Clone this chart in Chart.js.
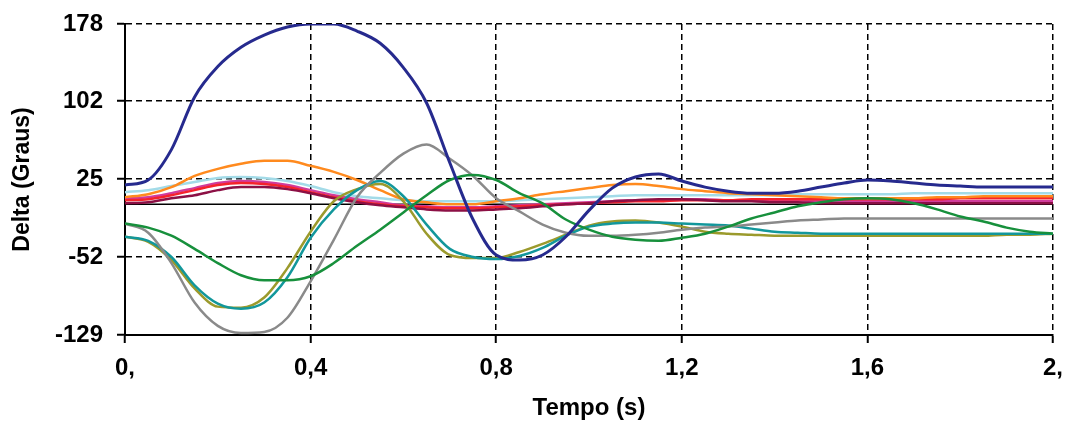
<!DOCTYPE html>
<html>
<head>
<meta charset="utf-8">
<script src="https://cdn.jsdelivr.net/npm/chart.js@4/dist/chart.umd.min.js"></script>
<style>
  body { margin: 0; background: #fff; }
  #wrap { width: 1067px; height: 423px; position: relative; }
</style>
</head>
<body>
<div id="wrap"><canvas id="lineChart"></canvas></div>
<script>
// tempo (s), passo de 0,05
const tempo = [0, 0.05, 0.1, 0.15, 0.2, 0.25, 0.3, 0.35, 0.4, 0.45, 0.5, 0.55, 0.6, 0.65, 0.7, 0.75, 0.8, 0.85, 0.9, 0.95,
  1.0, 1.05, 1.1, 1.15, 1.2, 1.25, 1.3, 1.35, 1.4, 1.45, 1.5, 1.55, 1.6, 1.65, 1.7, 1.75, 1.8, 1.85, 1.9, 1.95, 2.0];

// angulos delta (graus)
const azul = [19, 24, 54, 106, 136, 155, 167, 175, 178, 178, 171, 159, 135, 100, 41, -15, -50, -55, -50, -32,
  -6, 16, 27, 30, 23, 17, 13, 11, 11, 13, 17, 21, 24, 23, 21, 19, 18, 17, 17, 17, 17];
const laranja = [7, 10, 17, 28, 35, 40, 43, 43, 38, 32, 24, 14, 5, 2, 0, 0, 3, 6, 10, 13,
  16, 19, 20, 18, 15, 13, 11, 10, 9, 8, 7, 6, 6, 6, 6, 7, 7, 8, 8, 8, 8];
const celeste = [12, 14, 18, 22, 26, 27, 26, 23, 18, 12, 8, 6, 4, 3, 3, 3, 3, 4, 5, 6,
  7, 8, 9, 9, 9, 9, 9, 9, 9, 10, 10, 10, 10, 10, 11, 11, 11, 11, 11, 11, 11];
const magenta = [6, 7, 11, 16, 21, 23, 22, 19, 14, 9, 5, 2, -1, -2, -3, -3, -2, -1, 0, 1,
  2, 3, 4, 4, 5, 5, 4, 4, 4, 4, 3, 3, 3, 3, 3, 3, 3, 3, 3, 3, 3];
const vermelho = [4, 5, 9, 14, 19, 21, 20, 17, 12, 7, 3, 0, -2, -3, -4, -4, -3, -2, -1, 0,
  1, 2, 3, 3, 4, 4, 4, 5, 5, 5, 5, 5, 5, 5, 5, 5, 6, 6, 6, 6, 6];
const bordo = [1, 2, 6, 9, 14, 17, 17, 15, 11, 6, 2, -1, -3, -5, -6, -6, -5, -4, -2, 0,
  1, 3, 4, 5, 5, 4, 3, 3, 2, 2, 1, 1, 1, 1, 1, 1, 1, 1, 1, 1, 1];
const verde = [-19, -23, -31, -44, -58, -70, -75, -75, -71, -58, -41, -25, -8, 9, 24, 29, 24, 11, 1, -15,
  -25, -32, -35, -36, -33, -29, -22, -14, -8, -2, 2, 5, 6, 5, 1, -5, -12, -17, -23, -27, -29];
const cinza = [-19, -28, -58, -97, -120, -127, -126, -112, -76, -35, 7, 31, 50, 59, 45, 28, 6, -7, -20, -28,
  -31, -31, -30, -28, -25, -23, -22, -20, -18, -16, -15, -14, -14, -14, -14, -14, -14, -14, -14, -14, -14];
const oliva = [-32, -37, -55, -83, -101, -102, -92, -63, -27, 3, 15, 20, 3, -29, -50, -53, -53, -47, -39, -30,
  -21, -17, -16, -18, -22, -27, -29, -30, -31, -31, -31, -31, -31, -31, -31, -31, -31, -31, -30, -30, -29];
const ciano = [-32, -36, -52, -80, -98, -103, -97, -72, -33, -5, 14, 23, 8, -20, -44, -52, -54, -51, -43, -31,
  -22, -19, -18, -18, -19, -20, -21, -24, -27, -28, -29, -29, -29, -29, -29, -29, -29, -29, -29, -29, -29];

const yTicks = [-129, -52, 25, 102, 178];
const xTicks = [0, 0.4, 0.8, 1.2, 1.6, 2];
const xLabels = ["0,", "0,4", "0,8", "1,2", "1,6", "2,"];

const fonte = "'Liberation Sans', Arial, sans-serif";

function serie(valores, cor, largura) {
  return {
    data: tempo.map((t, i) => ({ x: t, y: valores[i] })),
    borderColor: cor,
    borderWidth: largura || 2.5,
    pointRadius: 0,
    cubicInterpolationMode: "monotone",
    fill: false,
  };
}

// zera o espaco extra que as escalas pedem para os rotulos das pontas
function semMargem(scale) {
  scale.paddingTop = 0;
  scale.paddingBottom = 0;
  scale.paddingLeft = 0;
  scale.paddingRight = 0;
}

function lineChart() {
  const ctx = document.getElementById("lineChart");
  if (!ctx) return;

  const zero = {
    data: [{ x: tempo[0], y: 0 }, { x: tempo[tempo.length - 1], y: 0 }],
    borderColor: "#000",
    borderWidth: 1.5,
    pointRadius: 0,
  };

  const myChart = new Chart(ctx, {
    type: "line",
    data: {
      datasets: [
        serie(azul, "#262a8e", 3),
        serie(verde, "#17903c"),
        serie(cinza, "#8a8a8a"),
        serie(ciano, "#12979b"),
        serie(oliva, "#9b9a2c"),
        serie(laranja, "#ff8a1e"),
        serie(bordo, "#8c1045"),
        serie(vermelho, "#f5222c"),
        serie(magenta, "#d03c9c"),
        serie(celeste, "#a3dbe8"),
        zero,
      ],
    },
    options: {
      responsive: true,
      maintainAspectRatio: false,
      animation: false,
      layout: { padding: { top: 24, right: 14, left: 0, bottom: 0 } },
      plugins: {
        legend: { display: false },
        tooltip: { enabled: false },
      },
      scales: {
        x: {
          type: "linear",
          min: 0,
          max: 2,
          afterBuildTicks: (scale) => {
            scale.ticks = xTicks.map((v) => ({ value: v }));
          },
          afterFit: (scale) => {
            scale.height = 88;
            semMargem(scale);
          },
          ticks: {
            autoSkip: false,
            maxRotation: 0,
            padding: 11,
            color: "#000",
            font: { family: fonte, size: 24, weight: "bold" },
            callback: (v) => xLabels[xTicks.indexOf(v)],
          },
          grid: {
            color: "#000",
            lineWidth: 1.5,
            tickLength: 8,
            tickColor: "#000",
            tickWidth: 2,
            tickBorderDash: [],
          },
          border: { display: true, color: "#000", width: 2, dash: [6, 4] },
          title: {
            display: true,
            text: "Tempo (s)",
            color: "#000",
            font: { family: fonte, size: 24, weight: "bold" },
            padding: { top: 0, bottom: 0 },
          },
        },
        y: {
          min: -129,
          max: 178,
          afterBuildTicks: (scale) => {
            scale.ticks = yTicks.map((v) => ({ value: v }));
          },
          afterFit: (scale) => {
            scale.width = 125;
            semMargem(scale);
          },
          ticks: {
            autoSkip: false,
            padding: 14,
            color: "#000",
            font: { family: fonte, size: 24, weight: "bold" },
          },
          grid: {
            color: "#000",
            lineWidth: 1.5,
            tickLength: 8,
            tickColor: "#000",
            tickWidth: 2,
            tickBorderDash: [],
          },
          border: { display: true, color: "#000", width: 2, dash: [6, 4] },
          title: {
            display: true,
            text: "Delta (Graus)",
            color: "#000",
            font: { family: fonte, size: 23, weight: "bold" },
            padding: { top: 9, bottom: 0 },
          },
        },
      },
    },
  });
}

lineChart();
</script>
</body>
</html>
